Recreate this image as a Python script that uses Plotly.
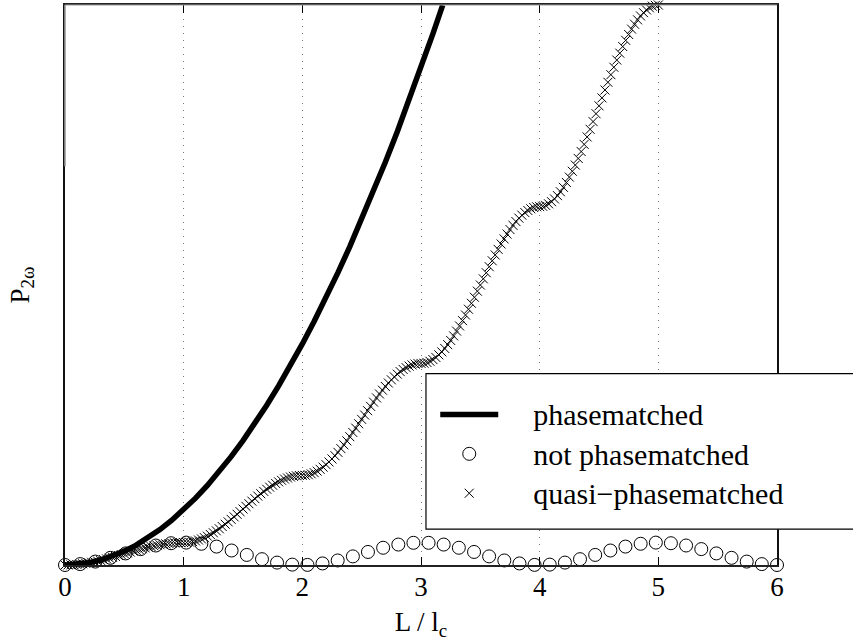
import plotly.graph_objects as go

# ---------------- data ----------------
x_ticks = [0, 1, 2, 3, 4, 5, 6]
x_ticklabels = ["0", "1", "2", "3", "4", "5", "6"]

# phasematched (solid thick line)
pm_x = [0.0, 0.1, 0.2, 0.3, 0.4, 0.5, 0.6, 0.7, 0.8, 0.9, 1.0, 1.1, 1.2, 1.3, 1.4, 1.5,
        1.6, 1.7, 1.8, 1.9, 2.0, 2.1, 2.2, 2.3, 2.4, 2.5, 2.6, 2.7, 2.8, 2.9, 3.0, 3.1, 3.183]
pm_y = [0.0, 0.10, 0.39, 0.89, 1.58, 2.47, 3.55, 4.84, 6.32, 7.99, 9.87, 11.94, 14.21, 16.68,
        19.35, 22.21, 25.27, 28.52, 31.98, 35.63, 39.48, 43.53, 47.77, 52.21, 56.85, 61.69,
        66.72, 71.95, 77.38, 83.00, 88.83, 94.85, 99.99]

# not phasematched (open circles)
np_x = [0.0, 0.128, 0.255, 0.383, 0.511, 0.638, 0.766, 0.894, 1.021, 1.149, 1.277, 1.404,
        1.532, 1.660, 1.787, 1.915, 2.043, 2.170, 2.298, 2.426, 2.553, 2.681, 2.809, 2.936,
        3.064, 3.191, 3.319, 3.447, 3.574, 3.702, 3.830, 3.957, 4.085, 4.213, 4.340, 4.468,
        4.596, 4.723, 4.851, 4.979, 5.106, 5.234, 5.362, 5.489, 5.617, 5.745, 5.872, 6.0]
np_y = [0.0, 0.16, 0.61, 1.28, 2.07, 2.84, 3.48, 3.89, 4.00, 3.79, 3.29, 2.59, 1.80, 1.04,
        0.43, 0.07, 0.02, 0.28, 0.81, 1.54, 2.33, 3.08, 3.65, 3.96, 3.96, 3.65, 3.08, 2.33,
        1.54, 0.81, 0.28, 0.02, 0.07, 0.43, 1.04, 1.80, 2.59, 3.29, 3.79, 4.00, 3.89, 3.48,
        2.84, 2.07, 1.28, 0.61, 0.16, 0.0]

# quasi-phasematched (x markers)
qpm_x = [
    0.000, 0.025, 0.050, 0.075, 0.100, 0.125, 0.150, 0.175, 0.200, 0.225, 0.250, 0.275, 0.300, 0.325,
    0.350, 0.375, 0.400, 0.425, 0.450, 0.475, 0.500, 0.525, 0.550, 0.575, 0.600, 0.625, 0.650, 0.675,
    0.700, 0.725, 0.750, 0.775, 0.800, 0.825, 0.850, 0.875, 0.900, 0.925, 0.950, 0.975, 1.000,
    1.025, 1.050, 1.075, 1.100, 1.125, 1.150, 1.175, 1.200, 1.225, 1.250, 1.275, 1.300, 1.325,
    1.350, 1.375, 1.400, 1.425, 1.450, 1.475, 1.500, 1.525, 1.550, 1.575, 1.600, 1.625, 1.650, 1.675,
    1.700, 1.725, 1.750, 1.775, 1.800, 1.825, 1.850, 1.875, 1.900, 1.925, 1.950, 1.975, 2.000,
    2.025, 2.050, 2.075, 2.100, 2.125, 2.150, 2.175, 2.200, 2.225, 2.250, 2.275, 2.300, 2.325,
    2.350, 2.375, 2.400, 2.425, 2.450, 2.475, 2.500, 2.525, 2.550, 2.575, 2.600, 2.625, 2.650, 2.675,
    2.700, 2.725, 2.750, 2.775, 2.800, 2.825, 2.850, 2.875, 2.900, 2.925, 2.950, 2.975, 3.000,
    3.025, 3.050, 3.075, 3.100, 3.125, 3.150, 3.175, 3.200, 3.225, 3.250, 3.275, 3.300, 3.325,
    3.350, 3.375, 3.400, 3.425, 3.450, 3.475, 3.500, 3.525, 3.550, 3.575, 3.600, 3.625, 3.650, 3.675,
    3.700, 3.725, 3.750, 3.775, 3.800, 3.825, 3.850, 3.875, 3.900, 3.925, 3.950, 3.975, 4.000,
    4.025, 4.050, 4.075, 4.100, 4.125, 4.150, 4.175, 4.200, 4.225, 4.250, 4.275, 4.300, 4.325,
    4.350, 4.375, 4.400, 4.425, 4.450, 4.475, 4.500, 4.525, 4.550, 4.575, 4.600, 4.625, 4.650, 4.675,
    4.700, 4.725, 4.750, 4.775, 4.800, 4.825, 4.850, 4.875, 4.900, 4.925, 4.950, 4.975, 5.000]
qpm_y = [
    0.00, 0.01, 0.02, 0.06, 0.10, 0.15, 0.22, 0.29, 0.38, 0.48, 0.59, 0.70, 0.82, 0.96,
    1.09, 1.23, 1.38, 1.53, 1.69, 1.84, 2.00, 2.16, 2.31, 2.47, 2.62, 2.77, 2.91, 3.05,
    3.18, 3.30, 3.41, 3.52, 3.62, 3.71, 3.78, 3.85, 3.90, 3.95, 3.98, 3.99, 4.00,
    4.02, 4.07, 4.17, 4.29, 4.46, 4.65, 4.88, 5.15, 5.44, 5.76, 6.10, 6.47, 6.87,
    7.28, 7.70, 8.15, 8.60, 9.06, 9.53, 10.00, 10.47, 10.94, 11.40, 11.85, 12.30, 12.72, 13.14,
    13.53, 13.90, 14.24, 14.56, 14.85, 15.12, 15.35, 15.54, 15.71, 15.83, 15.93, 15.98, 16.00,
    16.03, 16.12, 16.28, 16.49, 16.76, 17.09, 17.47, 17.91, 18.40, 18.93, 19.51, 20.12, 20.78,
    21.46, 22.17, 22.91, 23.67, 24.44, 25.22, 26.00, 26.78, 27.56, 28.33, 29.09, 29.83, 30.54, 31.22,
    31.88, 32.50, 33.07, 33.60, 34.09, 34.53, 34.91, 35.24, 35.51, 35.72, 35.88, 35.97, 36.00,
    36.04, 36.17, 36.39, 36.69, 37.07, 37.53, 38.06, 38.67, 39.35, 40.10, 40.91, 41.77, 42.69,
    43.64, 44.64, 45.67, 46.73, 47.81, 48.90, 50.00, 51.10, 52.19, 53.27, 54.33, 55.36, 56.36, 57.32,
    58.23, 59.09, 59.90, 60.65, 61.33, 61.94, 62.47, 62.93, 63.31, 63.61, 63.83, 63.96, 64.00,
    64.06, 64.22, 64.50, 64.88, 65.37, 65.96, 66.65, 67.44, 68.31, 69.27, 70.31, 71.42, 72.60,
    73.83, 75.11, 76.44, 77.80, 79.18, 80.59, 82.00, 83.41, 84.82, 86.20, 87.56, 88.89, 90.17, 91.40,
    92.58, 93.69, 94.73, 95.69, 96.56, 97.35, 98.04, 98.63, 99.12, 99.50, 99.78, 99.94, 100.00]

series_names = ["phasematched", "not phasematched", "quasi\u2212phasematched"]
x_range = [0, 6]
y_range = [0, 100]

# ---------------- figure ----------------
FONT = "Liberation Serif"
PAD = "\u00a0" * 4


def legend_label(name):
    # text drawn a little larger than the legend's nominal font so that the
    # row spacing (driven by the nominal font) matches the reference
    return '<span style="font-size:30px">' + PAD + name + "</span>"


fig = go.Figure()
fig.add_trace(go.Scatter(
    x=pm_x, y=pm_y, mode="lines", name=legend_label(series_names[0]),
    line=dict(color="black", width=5.5)))
fig.add_trace(go.Scatter(
    x=np_x, y=np_y, mode="markers", name=legend_label(series_names[1]), cliponaxis=False,
    marker=dict(symbol="circle-open", size=13, color="black", line=dict(width=1, color="black"))))
fig.add_trace(go.Scatter(
    x=qpm_x, y=qpm_y, mode="markers", name=legend_label(series_names[2]), cliponaxis=False,
    marker=dict(symbol="x-thin", size=9, color="black", line=dict(width=1, color="black"))))

shapes = [
    # grey top border and grey upper part of the left border (as in the reference)
    dict(type="line", xref="paper", yref="paper", x0=0, x1=1, y0=1, y1=1,
         line=dict(color="#9a9a9a", width=1.2)),
    dict(type="line", xref="paper", yref="y", x0=0, x1=0, y0=71.2, y1=100,
         line=dict(color="#9a9a9a", width=1.6)),
    # legend box (extends past the right edge of the figure)
    dict(type="rect", xref="paper", yref="paper", x0=0.507, x1=1.2, y0=0.064, y1=0.3416,
         fillcolor="white", line=dict(color="black", width=1.2), layer="above"),
]

fig.update_layout(
    width=853, height=641,
    margin=dict(l=65, r=76, t=3, b=76),
    plot_bgcolor="white", paper_bgcolor="white",
    font=dict(family=FONT, size=26, color="black"),
    showlegend=True,
    legend=dict(x=0.52, y=0.313, xanchor="left", yanchor="top",
                bgcolor="rgba(0,0,0,0)", borderwidth=0,
                font=dict(family=FONT, size=28, color="black"),
                itemwidth=58, tracegroupgap=0),
    shapes=shapes,
    xaxis=dict(range=x_range, tickmode="array", tickvals=x_ticks, ticktext=x_ticklabels,
               ticks="inside", ticklen=8, tickcolor="black", tickwidth=1,
               showline=True, linecolor="#222", linewidth=1.5, mirror="ticks",
               showgrid=True, gridcolor="#777", gridwidth=1, griddash="1px,6px",
               zeroline=False, ticklabelstandoff=-3,
               tickfont=dict(family=FONT, size=27, color="black"),
               title=dict(text="L / l<sub>c</sub>", standoff=12,
                          font=dict(family=FONT, size=27, color="black"))),
    yaxis=dict(range=y_range, showticklabels=False, ticks="", showgrid=False,
               showline=True, linecolor="#111", linewidth=1.5, mirror=True,
               zeroline=False,
               title=dict(text="P<sub>2\u03c9</sub>", standoff=26,
                          font=dict(family=FONT, size=27, color="black"))),
)

fig.write_html("out.html")
